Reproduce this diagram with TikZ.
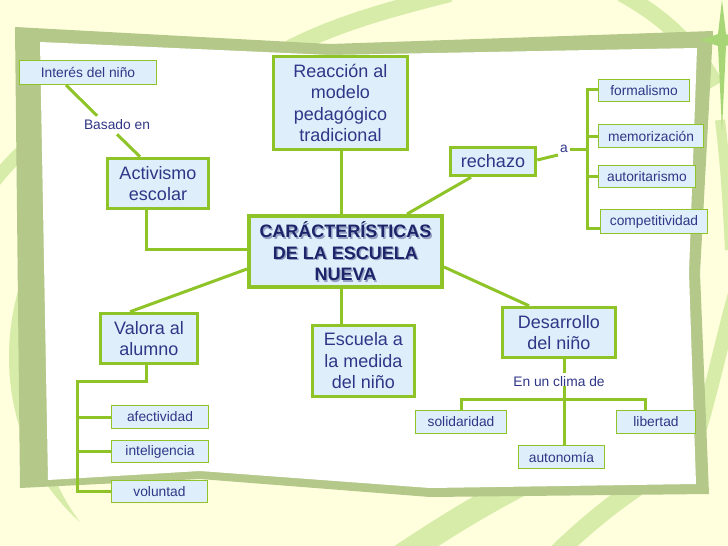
\documentclass[tikz,border=0pt]{standalone}
\usepackage{fontspec}
\setmainfont{Liberation Sans}
\usetikzlibrary{calc}
\definecolor{lg}{RGB}{143,196,40}
\definecolor{bfill}{RGB}{222,239,251}
\definecolor{navy}{RGB}{48,54,135}
\definecolor{navyd}{RGB}{30,36,105}
\definecolor{shad}{RGB}{150,160,195}
\definecolor{bgy}{RGB}{255,255,222}
\definecolor{frm}{RGB}{180,200,138}
\definecolor{sw}{RGB}{214,236,168}
\definecolor{star}{RGB}{168,214,118}
\newcommand\bigf{\fontsize{18}{21.5}\selectfont}
\newcommand\smallf{\fontsize{13.8}{16}\selectfont}
\tikzset{
 bigbox/.style={draw=lg, line width=3.5pt, fill=bfill, text=navy, font=\bigf, align=center, inner sep=0pt},
 smallbox/.style={draw=lg, line width=1.2pt, fill=bfill, text=navy, font=\smallf, inner sep=0pt},
 lbl/.style={text=navy, font=\smallf, inner sep=4pt},
 conn/.style={draw=lg, line width=3pt},
 band/.style={draw=sw},
}
\begin{document}
\begin{tikzpicture}[x=1pt,y=-1pt]
\useasboundingbox (0,0) rectangle (728,546);
\fill[bgy] (0,0) rectangle (728,546);
% background swooshes
\draw[band, line width=16pt] (240,80) .. controls (300,32) and (380,12) .. (450,-6);
\draw[band, line width=13pt] (-6,182) .. controls (10,162) and (25,147) .. (45,132);
\fill[sw] (45,230) .. controls (-12,320) and (-2,450) .. (80,522) .. controls (25,450) and (18,330) .. (45,230) -- cycle;
\draw[band, line width=24pt] (392,562) .. controls (440,530) and (480,505) .. (525,482);
\draw[band, line width=18pt] (548,562) .. controls (580,530) and (610,505) .. (645,482);
\draw[band, line width=14pt] (736,290) .. controls (722,340) and (712,390) .. (695,445);
\draw[band, line width=16pt] (622,-6) .. controls (660,15) and (690,40) .. (716,85);
\draw[band, line width=10pt] (720,120) .. controls (726,170) and (728,210) .. (730,250);
% frame
\fill[frm] (15,27) -- (330,44) -- (713,31) -- (700,273) -- (709,494) -- (430,497) -- (200,479) -- (20,488) -- cycle;
\fill[star] (722,0) -- (726,34) -- (740,40) -- (726,46) -- (722,130) -- (718,46) -- (700,40) -- (718,34) -- cycle;
\fill[white] (40,42) -- (330,55) -- (697,48) -- (689,273) -- (696,484) -- (430,488) -- (200,471) -- (48,480) -- cycle;

% nodes
\node[smallbox, minimum width=137, minimum height=24] (intr) at (88,72.5) {Interés del niño};
\node[lbl] (basado) at (117,125) {Basado en};
\node[bigbox, minimum width=101, minimum height=50] (act) at (158,183.5) {Activismo\\escolar};
\node[bigbox, minimum width=134, minimum height=93] (reac) at (340.5,103) {Reacción al\\modelo\\pedagógico\\tradicional};
\node[bigbox, line width=4pt, minimum width=193, minimum height=71] (central) at (345.5,251.5) {};
\node[text=shad, font=\bigf\bfseries, align=center, inner sep=0pt] (centralsh) at ($(central.center)+(1.3,1.3)$) {CARÁCTERÍSTICAS\\DE LA ESCUELA\\NUEVA};
\node[text=navyd, font=\bigf\bfseries, align=center, inner sep=0pt] (centraltx) at (central.center) {CARÁCTERÍSTICAS\\DE LA ESCUELA\\NUEVA};
\node[bigbox, minimum width=85, minimum height=28] (rech) at (493,161.5) {rechazo};
\node[lbl, inner sep=2pt] (a) at (564,149) {a};
\node[smallbox, minimum width=91, minimum height=22] (form) at (644,90.5) {formalismo};
\node[smallbox, minimum width=105, minimum height=23] (mem) at (651,136) {memorización};
\node[smallbox, minimum width=97, minimum height=22] (auto) at (647,176.5) {autoritarismo};
\node[smallbox, minimum width=107, minimum height=24] (comp) at (654,221.5) {competitividad};
\node[bigbox, minimum width=113, minimum height=50] (des) at (559,332.5) {Desarrollo\\del niño};
\node[lbl] (clima) at (559,382) {En un clima de};
\node[smallbox, minimum width=91, minimum height=23] (sol) at (461,422) {solidaridad};
\node[smallbox, minimum width=79, minimum height=23] (lib) at (656,422) {libertad};
\node[smallbox, minimum width=86, minimum height=23] (auton) at (561.5,457) {autonomía};
\node[bigbox, minimum width=102, minimum height=71] (esc) at (363.5,361) {Escuela a\\la medida\\del niño};
\node[bigbox, minimum width=97, minimum height=50] (val) at (149,338.5) {Valora al\\alumno};
\node[smallbox, minimum width=97, minimum height=23] (afec) at (160,417) {afectividad};
\node[smallbox, minimum width=97, minimum height=22] (intel) at (160,451.5) {inteligencia};
\node[smallbox, minimum width=96, minimum height=22] (volu) at (159.5,491.5) {voluntad};

% junction coordinates
\coordinate (i1) at (66,0);
\coordinate (a1) at (140,0);
\coordinate (j1) at (146,249);
\coordinate (j2) at (341,0);
\coordinate (j3) at (0,269);
\coordinate (j4) at (130,0);
\coordinate (r1) at (407,0);
\coordinate (r2) at (471,0);
\coordinate (r3) at (0,160);
\coordinate (d1) at (0,267);
\coordinate (d2) at (529,0);
\coordinate (bt) at (587,89);
\coordinate (bb) at (587,228);
\coordinate (dx) at (564,0);
\coordinate (dc) at (564,386);
\coordinate (dbl) at (461,399);
\coordinate (dbr) at (645,399);
\coordinate (v1) at (146,381);
\coordinate (v2) at (77,381);

% connectors
\draw[conn] (intr.south -| i1) -- (basado.155);
\draw[conn] (basado.south) -- (act.north -| a1);
\draw[conn] (act.south -| j1) -- (j1) -- (central.west |- j1);
\draw[conn] (reac.south -| j2) -- (central.north -| j2);
\draw[conn] (central.south -| j2) -- (esc.north -| j2);
\draw[conn] (central.west |- j3) -- (val.north -| j4);
\draw[conn] (central.north -| r1) -- (rech.south -| r2);
\draw[conn] (rech.east |- r3) -- (a.south west);
\draw[conn] (a.east) -- (a.east -| bt);
\draw[conn] (form.west |- bt) -- (bt) -- (bb) -- (comp.west |- bb);
\draw[conn] (mem.west -| bt) -- (mem.west);
\draw[conn] (auto.west -| bt) -- (auto.west);
\draw[conn] (central.east |- d1) -- (des.north -| d2);
\draw[conn] (des.south -| dx) -- (clima.north -| dx);
\draw[conn] (dc) -- (auton.north -| dx);
\draw[conn] (sol.north -| dbl) -- (dbl) -- (dbr) -- (lib.north -| dbr);
\draw[conn] (val.south -| v1) -- (v1) -- (v2) -- (volu.west -| v2) -- (volu.west);
\draw[conn] (afec.west -| v2) -- (afec.west);
\draw[conn] (intel.west -| v2) -- (intel.west);
\end{tikzpicture}
\end{document}
